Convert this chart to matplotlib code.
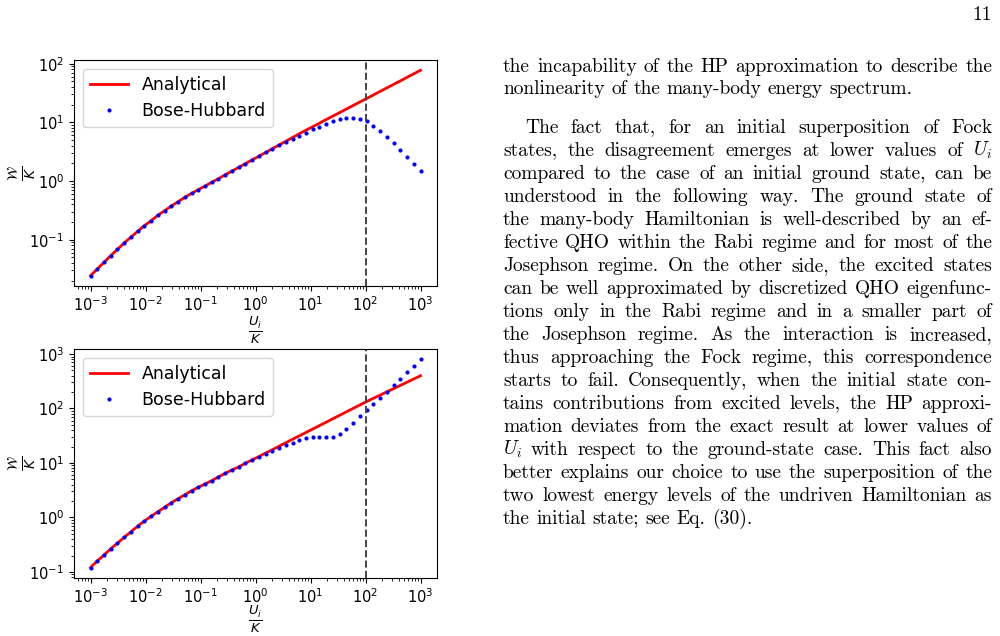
import matplotlib
matplotlib.use("Agg")
import matplotlib.pyplot as plt
import numpy as np

# ---- data -------------------------------------------------------------------
# sampling grid in log10(U_i / K)
u_exponents = [
    -3.000, -2.878, -2.755, -2.633, -2.510, -2.388, -2.265, -2.143, -2.020, -1.898,
    -1.776, -1.653, -1.531, -1.408, -1.286, -1.163, -1.041, -0.918, -0.796, -0.673,
    -0.551, -0.429, -0.306, -0.184, -0.061, 0.061, 0.184, 0.306, 0.429, 0.551,
    0.673, 0.796, 0.918, 1.041, 1.163, 1.286, 1.408, 1.531, 1.653, 1.776,
    1.898, 2.020, 2.143, 2.265, 2.388, 2.510, 2.633, 2.755, 2.878, 3.000,
]

# top panel: initial ground state
top_analytical = [
    0.0244, 0.0317, 0.0412, 0.0536, 0.0686, 0.0879, 0.111, 0.139, 0.174, 0.211,
    0.261, 0.313, 0.375, 0.446, 0.527, 0.617, 0.713, 0.822, 0.955, 1.10,
    1.28, 1.48, 1.71, 1.98, 2.30, 2.65, 3.07, 3.56, 4.12, 4.77,
    5.53, 6.40, 7.36, 8.46, 9.69, 11.2, 12.8, 14.7, 16.9, 19.4,
    22.3, 25.5, 29.3, 33.7, 38.7, 44.4, 50.9, 58.6, 67.3, 77.3,
]
top_hubbard = [
    0.0244, 0.0317, 0.0412, 0.0536, 0.0686, 0.0879, 0.111, 0.139, 0.174, 0.211,
    0.261, 0.313, 0.375, 0.446, 0.527, 0.617, 0.713, 0.822, 0.955, 1.10,
    1.28, 1.48, 1.71, 1.98, 2.30, 2.65, 3.07, 3.52, 4.08, 4.67,
    5.31, 5.95, 6.58, 7.60, 8.45, 9.50, 10.7, 11.4, 12.0, 12.0,
    11.4, 10.4, 8.80, 7.20, 5.70, 4.43, 3.43, 2.60, 1.98, 1.50,
]

# bottom panel: initial superposition of the two lowest levels
bottom_analytical = [
    0.120, 0.159, 0.203, 0.265, 0.337, 0.430, 0.544, 0.693, 0.857, 1.05,
    1.27, 1.53, 1.86, 2.20, 2.61, 3.09, 3.57, 4.11, 4.73, 5.53,
    6.46, 7.43, 8.45, 9.87, 11.4, 13.1, 15.2, 17.5, 20.3, 23.5,
    27.2, 31.4, 36.3, 42.0, 48.5, 56.1, 64.9, 75.1, 86.9, 100.5,
    116, 134, 154, 176, 202, 231, 265, 304, 348, 399,
]
bottom_hubbard = [
    0.120, 0.159, 0.203, 0.265, 0.337, 0.430, 0.544, 0.693, 0.857, 1.05,
    1.27, 1.53, 1.86, 2.20, 2.61, 3.09, 3.57, 4.11, 4.73, 5.53,
    6.46, 7.43, 8.45, 9.87, 11.4, 12.7, 14.7, 16.9, 18.9, 21.1,
    23.7, 26.1, 28.4, 30.5, 30.5, 29.7, 29.7, 34.2, 41.7, 53.7,
    71.3, 93.0, 120, 159, 205, 268, 346, 459, 601, 796,
]

x_ticks = [1e-3, 1e-2, 1e-1, 1e0, 1e1, 1e2, 1e3]
top_y_ticks = [1e-1, 1e0, 1e1, 1e2]
bottom_y_ticks = [1e-1, 1e0, 1e1, 1e2, 1e3]

crossover = 100.0  # dashed vertical line

page_number = "11"
body_lines = [
    # (text, indent, justify)
    ("the incapability of the HP approximation to describe the", False, True),
    ("nonlinearity of the many-body energy spectrum.", False, False),
    ("The fact that, for an initial superposition of Fock", True, True),
    ("states, the disagreement emerges at lower values of $U_i$", False, True),
    ("compared to the case of an initial ground state, can be", False, True),
    ("understood in the following way. The ground state of", False, True),
    ("the many-body Hamiltonian is well-described by an ef-", False, True),
    ("fective QHO within the Rabi regime and for most of the", False, True),
    ("Josephson regime. On the other side, the excited states", False, True),
    ("can be well approximated by discretized QHO eigenfunc-", False, True),
    ("tions only in the Rabi regime and in a smaller part of", False, True),
    ("the Josephson regime. As the interaction is increased,", False, True),
    ("thus approaching the Fock regime, this correspondence", False, True),
    ("starts to fail. Consequently, when the initial state con-", False, True),
    ("tains contributions from excited levels, the HP approxi-", False, True),
    ("mation deviates from the exact result at lower values of", False, True),
    ("$U_i$ with respect to the ground-state case. This fact also", False, True),
    ("better explains our choice to use the superposition of the", False, True),
    ("two lowest energy levels of the undriven Hamiltonian as", False, True),
    ("the initial state; see Eq. (30).", False, False),
]

# ---- figure ------------------------------------------------------------------
W_PX, H_PX = 1000, 636
fig = plt.figure(figsize=(W_PX / 100, H_PX / 100), dpi=100)
u = 10.0 ** np.array(u_exponents)


def px_rect(left, top, right, bottom):
    return [left / W_PX, 1 - bottom / H_PX, (right - left) / W_PX, (bottom - top) / H_PX]


def add_panel(rect, analytical, hubbard, y_ticks, xlabel_y):
    ax = fig.add_axes(rect)
    ax.plot(u, analytical, color="red", linewidth=2.0, label="Analytical")
    ax.plot(u, hubbard, "o", color="blue", markersize=3.0, markeredgecolor="none",
            label="Bose-Hubbard")
    ax.axvline(crossover, color="#444444", linestyle="--", linewidth=1.4)
    ax.set_xscale("log")
    ax.set_yscale("log")
    ax.set_xticks(x_ticks)
    ax.set_yticks(y_ticks)
    ax.set_xlabel(r"$\frac{U_i}{K}$", fontsize=13.5)
    ax.set_ylabel(r"$\frac{\mathcal{W}}{K}$", fontsize=14)
    ax.xaxis.set_label_coords(0.5, xlabel_y)
    ax.yaxis.set_label_coords(-0.10, 0.5)
    ax.tick_params(labelsize=10.5)
    ax.legend(loc="upper left", fontsize=12.5, handlelength=2.2)
    return ax


add_panel(px_rect(74, 60, 437, 286), top_analytical, top_hubbard, top_y_ticks, -0.125)
add_panel(px_rect(74, 349, 437, 578), bottom_analytical, bottom_hubbard, bottom_y_ticks, -0.112)

# ---- justified text column on the right --------------------------------------
text_kw = dict(fontsize=14, family="cmr10", math_fontfamily="cm", va="baseline", color="black")
col_left, col_right = 503, 992
indent = 22
natural_gap = 6.5
renderer = fig.canvas.get_renderer()

fig.text(col_right / W_PX, 1 - 20 / H_PX, page_number, ha="right", **text_kw)

baselines = [72, 94] + [133 + 23 * k for k in range(len(body_lines) - 2)]
for (line, indented, justify), base in zip(body_lines, baselines):
    words = line.split()
    y = 1 - base / H_PX
    texts = [fig.text(0, y, w, **text_kw) for w in words]
    widths = [t.get_window_extent(renderer).width for t in texts]
    x0 = col_left + (indent if indented else 0)
    if justify and len(words) > 1:
        gap = (col_right - x0 - sum(widths)) / (len(words) - 1)
    else:
        gap = natural_gap
    x = x0
    for t, w in zip(texts, widths):
        t.set_x(x / W_PX)
        x += w + gap

fig.savefig("out.png", dpi=100)
plt.close(fig)
